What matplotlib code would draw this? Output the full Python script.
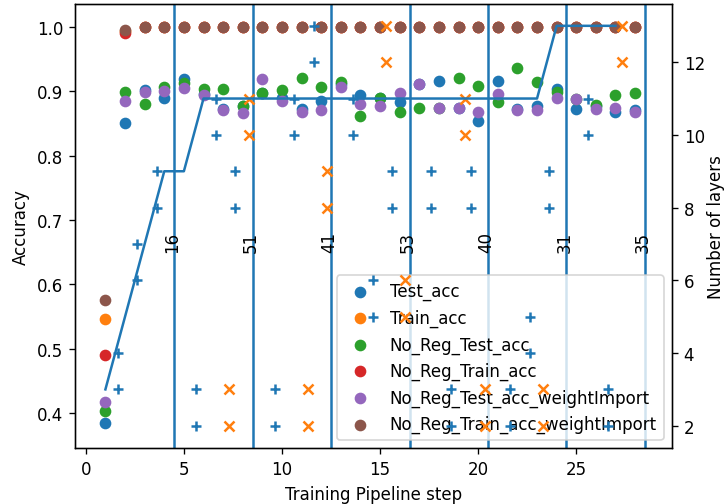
import matplotlib
matplotlib.use("Agg")
import matplotlib.pyplot as plt

# Pipeline steps and accuracies of each run
steps = list(range(1, 29))

test_acc = [0.385, 0.850, 0.902, 0.890, 0.919, 0.896, 0.872, 0.877, 0.897, 0.890,
            0.872, 0.885, 0.911, 0.894, 0.889, 0.883, 0.911, 0.915, 0.874, 0.854,
            0.915, 0.873, 0.877, 0.904, 0.872, 0.877, 0.868, 0.870]
train_acc = [0.547, 0.993] + [1.0] * 26
no_reg_test_acc = [0.403, 0.899, 0.880, 0.906, 0.913, 0.903, 0.904, 0.877, 0.897, 0.902,
                   0.920, 0.907, 0.914, 0.861, 0.889, 0.867, 0.874, 0.874, 0.921, 0.908,
                   0.883, 0.936, 0.914, 0.898, 0.887, 0.878, 0.894, 0.897]
no_reg_train_acc = [0.491, 0.990] + [1.0] * 26
no_reg_test_acc_wi = [0.417, 0.884, 0.899, 0.900, 0.905, 0.894, 0.871, 0.866, 0.919, 0.884,
                      0.867, 0.871, 0.906, 0.880, 0.877, 0.897, 0.911, 0.874, 0.874, 0.867,
                      0.896, 0.871, 0.871, 0.889, 0.888, 0.873, 0.874, 0.867]
no_reg_train_acc_wi = [0.576, 0.995] + [1.0] * 26

# Number of layers of the network along the pipeline
layer_steps = list(range(1, 28))
n_layers = [3, 5, 7, 9, 9, 11, 11, 11, 11, 11, 11, 11, 11, 11, 11, 11, 11, 11, 11, 11,
            11, 11, 11, 13, 13, 13, 13]

# Candidate layer counts: added ('+') and removed ('x')
add_x = [1.62, 1.62, 2.62, 2.62, 3.62, 3.62, 5.62, 5.62, 6.62, 6.62, 7.62, 7.62,
         9.62, 9.62, 10.62, 10.62, 11.62, 11.62, 13.62, 13.62, 14.62, 14.62, 15.62, 15.62,
         17.62, 17.62, 18.62, 18.62, 19.62, 19.62, 21.62, 21.62, 22.62, 22.62, 23.62, 23.62,
         25.62, 25.62, 26.62, 26.62]
add_layers = [4, 3, 7, 6, 9, 8, 3, 2, 11, 10, 9, 8,
              3, 2, 11, 10, 13, 12, 11, 10, 6, 5, 9, 8,
              9, 8, 3, 2, 9, 8, 3, 2, 5, 4, 9, 8,
              11, 10, 3, 2]
rem_x = [7.32, 7.32, 8.31, 8.31, 11.32, 11.32, 12.28, 12.28, 15.32, 15.32,
         16.28, 16.28, 19.32, 19.32, 20.33, 20.33, 23.31, 23.31, 27.31, 27.31]
rem_layers = [3, 2, 11, 10, 3, 2, 9, 8, 13, 12,
              6, 5, 11, 10, 3, 2, 3, 2, 13, 12]

# Stage boundaries and their labels
stage_x = [4.5, 8.5, 12.5, 16.5, 20.5, 24.5, 28.5]
stage_labels = ["16", "51", "41", "53", "40", "31", "35"]

fig = plt.figure(figsize=(727 / 120, 505 / 120), dpi=120)
ax1 = fig.add_axes([75 / 727, 1 - 449.3 / 505, 597 / 727, 444.3 / 505])

ax1.scatter(steps, test_acc, label="Test_acc")
ax1.scatter(steps, train_acc, label="Train_acc")
ax1.scatter(steps, no_reg_test_acc, label="No_Reg_Test_acc")
ax1.scatter(steps, no_reg_train_acc, label="No_Reg_Train_acc")
ax1.scatter(steps, no_reg_test_acc_wi, label="No_Reg_Test_acc_weightImport")
ax1.scatter(steps, no_reg_train_acc_wi, label="No_Reg_Train_acc_weightImport")

for xs, lab in zip(stage_x, stage_labels):
    ax1.axvline(xs, color="C0")
    ax1.text(xs - 0.1, 0.65, lab, rotation=90, ha="center", va="bottom")

ax1.set_xlim(-0.55, 29.88)
ax1.set_ylim(0.3457, 1.0352)
ax1.set_xlabel("Training Pipeline step")
ax1.set_ylabel("Accuracy")
ax1.legend(loc="lower right")

ax2 = ax1.twinx()
ax2.plot(layer_steps, n_layers, color="C0")
ax2.scatter(add_x, add_layers, marker="+", color="C0")
ax2.scatter(rem_x, rem_layers, marker="x", color="C1")
ax2.set_ylim(1.38, 13.60)
ax2.set_ylabel("Number of layers", labelpad=1.5)

fig.savefig("out.png", dpi=120)
